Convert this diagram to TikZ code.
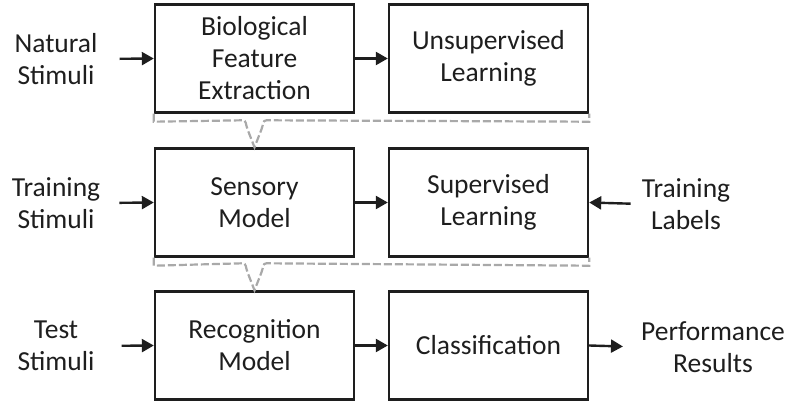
\documentclass[tikz,border=0pt]{standalone}
\usepackage{fontspec}
\setmainfont{Carlito}
\usepackage{xcolor}
\usepackage{tikz}
\usetikzlibrary{arrows.meta,positioning,calc}
\definecolor{inkline}{HTML}{1E1E1E}
\definecolor{dashgray}{HTML}{A9A9A9}
\tikzset{
  stagebox/.style={draw=inkline,line width=2.4pt,minimum width=199pt,minimum height=108pt,align=center,inner sep=2pt,text=inkline,font=\fontsize{27.5}{32}\selectfont},
  sidetext/.style={align=center,inner sep=0pt,text=inkline,font=\fontsize{27.5}{32}\selectfont},
  flowarrow/.style={-{Triangle[length=12pt,width=13pt]},line width=2.4pt,inkline},
  linkdash/.style={dashgray,line width=2.2pt,dash pattern=on 8pt off 3pt},
}

\begin{document}
\begin{tikzpicture}[x=1pt,y=1pt]
  \useasboundingbox (0,0) rectangle (789,402);
  % top row
  \node[sidetext] (natstim) at (56,343) {Natural\\Stimuli};
  \node[stagebox] (bio) at (254.5,343.5) {Biological\\Feature\\Extraction};
  \node[stagebox] (unsup) at (488.5,343.5) {Unsupervised\\Learning};
  % middle row
  \node[sidetext] (trstim) at (56,199) {Training\\Stimuli};
  \node[stagebox] (sens) at (254.5,199.5) {Sensory\\Model};
  \node[stagebox] (sup) at (488.5,199.5) {Supervised\\Learning};
  \node[sidetext] (trlab) at (686,198) {Training\\Labels};
  % bottom row
  \node[sidetext] (teststim) at (56,56) {Test\\Stimuli};
  \node[stagebox] (recog) at (254.5,56.5) {Recognition\\Model};
  \node[stagebox] (classif) at (488.5,56.5) {Classification};
  \node[sidetext] (perf) at (713,55) {Performance\\Results};
  \draw[flowarrow,shorten <=22pt] (natstim.east) -- (bio.west);
  \draw[flowarrow] (bio) -- (unsup);
  \draw[flowarrow,shorten <=19pt] (trstim.east) -- (sens.west);
  \draw[flowarrow] (sens) -- (sup);
  \draw[flowarrow,shorten <=11pt] (trlab.west) -- (sup.east);
  \draw[flowarrow,shorten <=27pt] (teststim.east) -- (recog.west);
  \draw[flowarrow] (recog) -- (classif);
  \draw[flowarrow,shorten >=18pt] (classif.east) -- (perf.west);
  % dashed links between rows
  \draw[linkdash] (bio.south west) -- ++(0,-8) -- ($(sens.north)+(-12,27)$)
    .. controls +(4,0) and +(-2,5) .. ($(sens.north)+(-7,18)$) -- (sens.north)
    -- ($(sens.north)+(7,18)$) .. controls +(2,5) and +(-4,0) .. ($(sens.north)+(12,27)$)
    -- ($(unsup.south east)+(0,-8)$) -- (unsup.south east);
  \draw[linkdash] (sens.south west) -- ++(0,-8) -- ($(recog.north)+(-12,27)$)
    .. controls +(4,0) and +(-2,5) .. ($(recog.north)+(-7,18)$) -- (recog.north)
    -- ($(recog.north)+(7,18)$) .. controls +(2,5) and +(-4,0) .. ($(recog.north)+(12,27)$)
    -- ($(sup.south east)+(0,-8)$) -- (sup.south east);
\end{tikzpicture}
\end{document}
